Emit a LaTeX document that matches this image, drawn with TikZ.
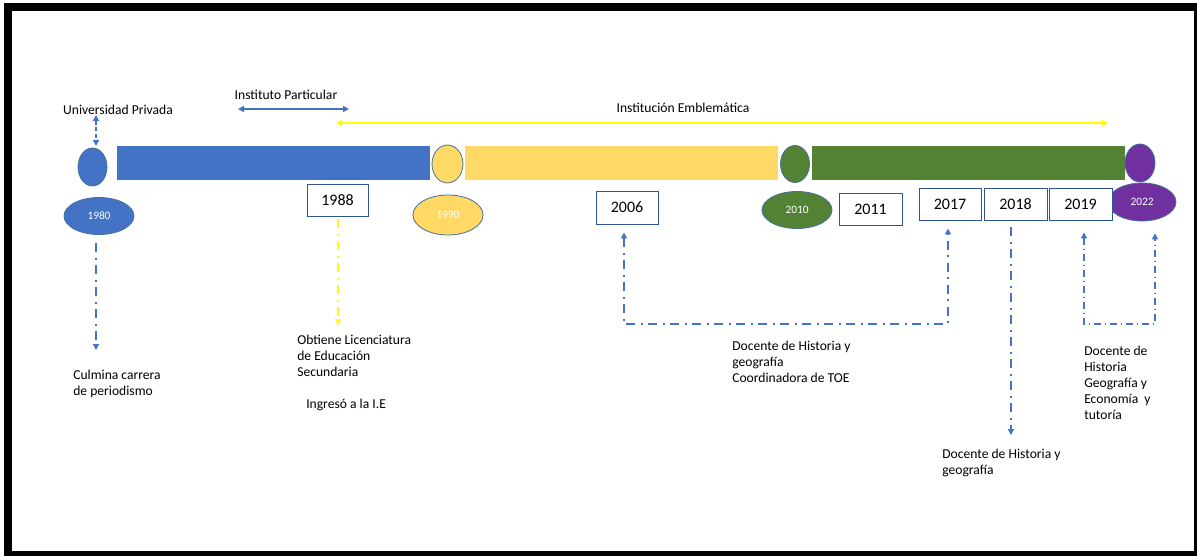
\documentclass[tikz,border=0pt]{standalone}
\usepackage{fontspec}
\setmainfont{Carlito}
\usetikzlibrary{shapes.geometric,arrows.meta}
\definecolor{cblue}{RGB}{68,114,196}
\definecolor{cyel}{RGB}{255,217,102}
\definecolor{ayel}{RGB}{255,255,0}
\definecolor{cgreen}{RGB}{84,130,53}
\definecolor{cpurple}{RGB}{112,48,160}
\definecolor{eline}{RGB}{65,113,156}
\definecolor{bline}{RGB}{47,85,151}
\tikzset{
  ell/.style={ellipse, draw=eline, line width=0.6pt, inner sep=0pt, text=white, font=\fontsize{8.5}{9}\selectfont},
  bar/.style={rectangle, inner sep=0pt, minimum height=25.5pt},
  yearbox/.style={rectangle, draw=bline, line width=0.7pt, fill=white, inner sep=0pt, minimum height=24pt, font=\fontsize{12}{13}\selectfont},
  lbl/.style={font=\fontsize{10.2}{12}\selectfont, inner sep=0pt, align=left},
  tip/.style={-{Triangle[length=4.5pt,width=4.5pt]}},
  dd/.style={line width=1.1pt, dash pattern=on 7pt off 4pt on 1.5pt off 4pt},
}
\begin{document}
\begin{tikzpicture}[x=0.75pt,y=-0.75pt]
\useasboundingbox (0,0) rectangle (1197,556);
\fill[black] (4,3) rectangle (1197,556);
\fill[white] (12,11) rectangle (1194,551);

% bars
\node[bar, fill=cblue, minimum width=234.75pt] (bar1) at (273.5,163) {};
\node[bar, fill=cyel, minimum width=234.75pt] (bar2) at (621.5,163) {};
\node[bar, fill=cgreen, minimum width=234.75pt] (bar3) at (968.5,163) {};

% small ellipses
\node[ell, fill=cblue, minimum width=21.75pt, minimum height=28.5pt] (s80) at (92.5,167) {};
\node[ell, fill=cyel, minimum width=23.25pt, minimum height=28.5pt] (s90) at (447.5,164) {};
\node[ell, fill=cgreen, minimum width=21.75pt, minimum height=27.75pt] (s10) at (795,164) {};
\node[ell, fill=cpurple, minimum width=22.5pt, minimum height=28.5pt] (s22) at (1140,163) {};

% year ellipses
\node[ell, fill=cblue, minimum width=52.5pt, minimum height=27.75pt] (e80) at (99,216) {1980};
\node[ell, fill=cyel, minimum width=52.5pt, minimum height=30pt] (e90) at (448,215) {1990};
\node[ell, fill=cgreen, minimum width=52.5pt, minimum height=27.75pt] (e10) at (797,210) {2010};
\node[ell, fill=cpurple, minimum width=51pt, minimum height=28.5pt] (e22) at (1142,202) {2022};

% year boxes
\node[yearbox, minimum width=45.75pt] (b88) at (337.5,200) {1988};
\node[yearbox, minimum width=46.5pt, minimum height=24.75pt] (b06) at (627,207.5) {2006};
\node[yearbox, minimum width=47.25pt] (b11) at (870.5,209) {2011};
\node[yearbox, minimum width=46.5pt] (b17) at (950,204) {2017};
\node[yearbox, minimum width=47.25pt] (b18) at (1015.5,204) {2018};
\node[yearbox, minimum width=47.25pt] (b19) at (1080.5,204) {2019};

% top labels
\node[lbl] (tuniv) at (118,110) {Universidad Privada};
\node[lbl] (tinst) at (286,95) {Instituto Particular};
\node[lbl] (temb) at (683,108) {Institución Emblemática};

\coordinate (ip1) at (238,109);
\coordinate (ip2) at (349,109);
\draw[cblue, line width=1.1pt, {Triangle[length=4.5pt,width=4.5pt]}-{Triangle[length=4.5pt,width=4.5pt]}] (ip1) -- (ip2);
\coordinate (ie1) at (336,123);
\coordinate (ie2) at (1108,123);
\draw[ayel, line width=1.4pt, {Triangle[length=4.5pt,width=4.5pt]}-{Triangle[length=4.5pt,width=4.5pt]}] (ie1) -- (ie2);

\coordinate (u1) at (96,115);
\coordinate (u2) at (96,146);
\draw[cblue, line width=0.9pt, dash pattern=on 3pt off 2pt, {Triangle[length=4.5pt,width=4.5pt]}-{Triangle[length=4.5pt,width=4.5pt]}] (u1) -- (u2);

% bottom labels
\node[lbl, anchor=north west] (tcul) at (73,370) {Culmina carrera\\de periodismo};
\node[lbl, anchor=north west] (tobt) at (297,335) {Obtiene Licenciatura\\de Educación\\Secundaria};
\node[lbl, anchor=north west] (ting) at (306,399) {Ingresó a la I.E};
\node[lbl, anchor=north west] (tdoc1) at (732,341) {Docente de Historia y\\geografía\\Coordinadora de TOE};
\node[lbl, anchor=north west] (tdoc2) at (942,449) {Docente de Historia y\\geografía};
\node[lbl, anchor=north west] (tdoc3) at (1084,346) {Docente de\\Historia\\Geografía y\\Economía~ y\\tutoría};

% connectors
\coordinate (c80) at (96,350);
\draw[cblue, dd, tip, shorten <=6pt] (e80.south -| c80) -- (c80);
\coordinate (c88) at (338,325);
\draw[ayel, dd, line width=1.5pt, tip, shorten <=2pt] (b88.south -| c88) -- (c88);
\coordinate (c18) at (1011,435);
\draw[cblue, dd, tip, shorten <=5pt] (b18.south -| c18) -- (c18);

\coordinate (h06) at (624,324);
\coordinate (h17) at (948,324);
\draw[cblue, line width=1.1pt, dash pattern=on 7pt off 4pt on 1.5pt off 4pt,
  {Triangle[length=4.5pt,width=4.5pt]}-{Triangle[length=4.5pt,width=4.5pt]}, shorten <=6pt, shorten >=6pt]
  (b06.south -| h06) -- (h06) -- (h17) -- (b17.south -| h17);

\coordinate (h19) at (1084,324);
\coordinate (h22) at (1155,324);
\draw[cblue, line width=1pt, dash pattern=on 5pt off 3pt on 1pt off 3pt,
  {Triangle[length=4.5pt,width=4.5pt]}-{Triangle[length=4.5pt,width=4.5pt]}, shorten <=9pt, shorten >=9pt]
  (b19.south -| h19) -- (h19) -- (h22) -- (e22.south -| h22);
\end{tikzpicture}
\end{document}
